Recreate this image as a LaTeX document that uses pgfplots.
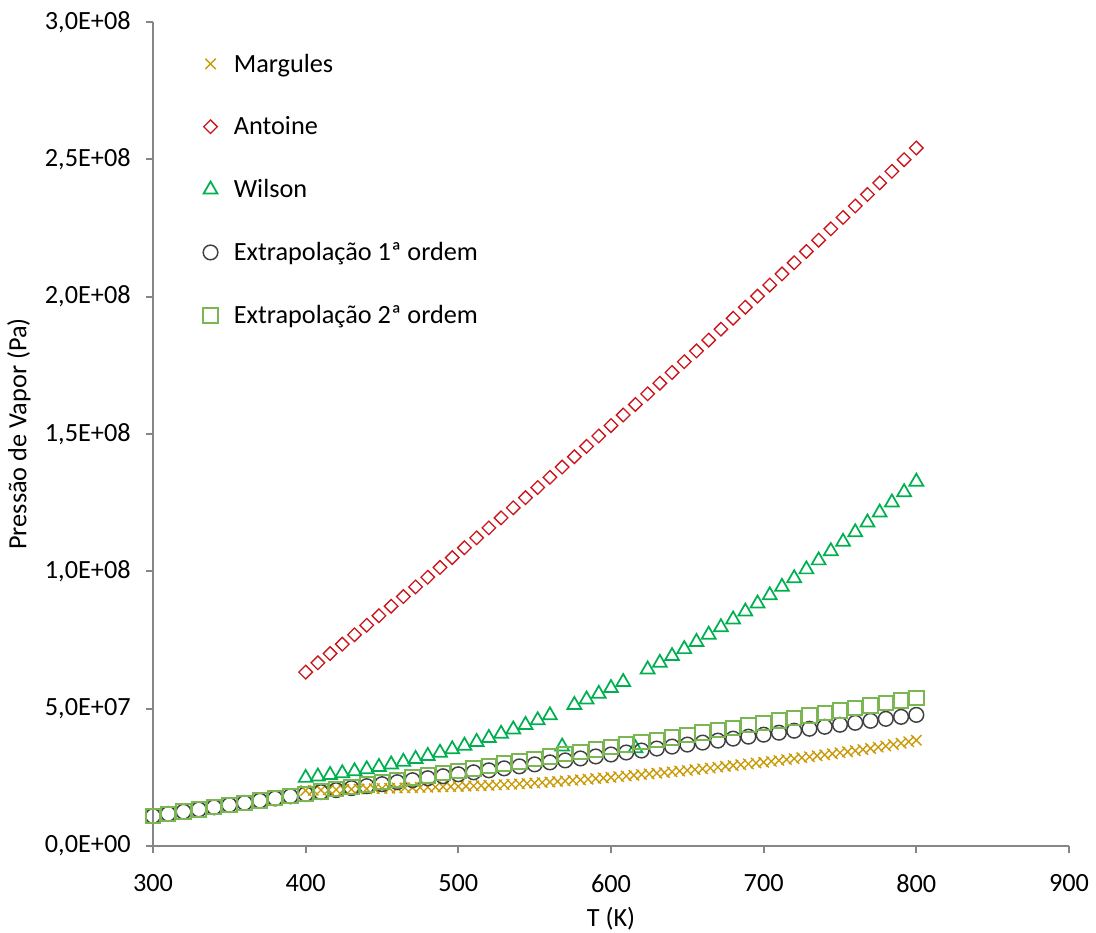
\documentclass[border=0pt]{standalone}
\usepackage{fontspec}
\setmainfont{Carlito}
\usepackage{pgfplots}
\pgfplotsset{compat=1.18}

\definecolor{cMarg}{RGB}{201,154,6}
\definecolor{cAnt}{RGB}{204,20,28}
\definecolor{cWil}{RGB}{0,176,80}
\definecolor{cExt1}{RGB}{64,64,64}
\definecolor{cExt2}{RGB}{122,182,82}
\definecolor{cAxis}{RGB}{134,134,134}

\newcommand{\lblfont}{\fontsize{19.7pt}{23.6pt}\selectfont}

\begin{document}
\begin{tikzpicture}
\path[use as bounding box] (-114.75pt,-64.5pt) rectangle (707.25pt,634.5pt);
\begin{axis}[
  at={(0,0)}, anchor=south west,
  scale only axis, width=687pt, height=618pt,
  xmin=300, xmax=900, ymin=0, ymax=3e8,
  clip=false,
  axis x line=bottom, axis y line=left,
  axis line style={-, draw=cAxis, line width=1.5pt},
  tick align=outside, major tick length=5.25pt,
  tick style={draw=cAxis, line width=1.5pt},
  xtick={300,400,500,600,700,800,900},
  xticklabels={300,400,500,600,700,800,900},
  ytick={0,5e7,1e8,1.5e8,2e8,2.5e8,3e8},
  yticklabels={{0,0E+00},{5,0E+07},{1,0E+08},{1,5E+08},{2,0E+08},{2,5E+08},{3,0E+08}},
  scaled y ticks=false,
  ticklabel style={font=\lblfont, text=black},
  yticklabel style={xshift=-8pt},
  xticklabel style={yshift=-12.5pt},
  xlabel={T (K)},
  ylabel={Pressão de Vapor (Pa)},
  label style={font=\lblfont},
  xlabel style={at={(axis description cs:0.5,-0.088)}, anchor=center},
  ylabel style={at={(axis description cs:-0.1463,0.5)}, anchor=center},
  legend style={at={(axis description cs:0.0545,0.965)}, anchor=north west,
    draw=none, fill=none, font=\lblfont, row sep=28pt,
    inner sep=0pt,
    /tikz/every odd column/.append style={column sep=10pt}},
  legend cell align=left,
]

% Margules
\addplot[only marks, mark=x, mark size=5.5pt, color=cMarg, line width=1pt]
coordinates {
(400,20.20e6)(405,20.27e6)(410,20.35e6)(415,20.42e6)(420,20.50e6)(425,20.57e6)
(430,20.65e6)(435,20.72e6)(440,20.80e6)(445,20.87e6)(450,20.95e6)(455,21.02e6)
(460,21.10e6)(465,21.17e6)(470,21.25e6)(475,21.32e6)(480,21.40e6)(485,21.47e6)
(490,21.55e6)(495,21.62e6)(500,21.70e6)(505,21.80e6)(510,21.90e6)(515,22.00e6)
(520,22.10e6)(525,22.22e6)(530,22.35e6)(535,22.47e6)(540,22.60e6)(545,22.77e6)
(550,22.95e6)(555,23.12e6)(560,23.30e6)(565,23.50e6)(570,23.70e6)(575,23.90e6)
(580,24.10e6)(585,24.32e6)(590,24.55e6)(595,24.77e6)(600,25.00e6)(605,25.25e6)
(610,25.50e6)(615,25.75e6)(620,26.00e6)(625,26.25e6)(630,26.50e6)(635,26.75e6)
(640,27.00e6)(645,27.27e6)(650,27.55e6)(655,27.82e6)(660,28.10e6)(665,28.40e6)
(670,28.70e6)(675,29.00e6)(680,29.30e6)(685,29.60e6)(690,29.90e6)(695,30.20e6)
(700,30.50e6)(705,30.82e6)(710,31.15e6)(715,31.47e6)(720,31.80e6)(725,32.15e6)
(730,32.50e6)(735,32.85e6)(740,33.20e6)(745,33.57e6)(750,33.95e6)(755,34.32e6)
(760,34.70e6)(765,35.12e6)(770,35.55e6)(775,35.97e6)(780,36.40e6)(785,36.92e6)
(790,37.45e6)(795,37.97e6)(800,38.50e6)
};
\addlegendentry{Margules}

% Antoine
\addplot[only marks, mark=square, mark size=3.6pt, mark options={rotate=45},
  color=cAnt, line width=1pt]
coordinates {
(400,63.30e6)(408,66.68e6)(416,70.07e6)(424,73.48e6)(432,76.91e6)(440,80.36e6)
(448,83.82e6)(456,87.31e6)(464,90.81e6)(472,94.33e6)(480,97.86e6)(488,101.42e6)
(496,104.99e6)(504,108.58e6)(512,112.19e6)(520,115.82e6)(528,119.47e6)(536,123.13e6)
(544,126.81e6)(552,130.51e6)(560,134.23e6)(568,137.96e6)(576,141.72e6)(584,145.49e6)
(592,149.28e6)(600,153.08e6)(608,156.91e6)(616,160.75e6)(624,164.61e6)(632,168.49e6)
(640,172.39e6)(648,176.31e6)(656,180.24e6)(664,184.19e6)(672,188.16e6)(680,192.15e6)
(688,196.15e6)(696,200.18e6)(704,204.22e6)(712,208.28e6)(720,212.35e6)(728,216.45e6)
(736,220.56e6)(744,224.69e6)(752,228.84e6)(760,233.01e6)(768,237.20e6)(776,241.40e6)
(784,245.62e6)(792,249.86e6)(800,254.12e6)
};
\addlegendentry{Antoine}

% Wilson
\addplot[only marks, mark=triangle, mark size=6pt, color=cWil, line width=1.3pt]
coordinates {
(400,24.80e6)(408,25.30e6)(416,25.86e6)(424,26.49e6)(432,27.19e6)(440,27.95e6)
(448,28.79e6)(456,29.69e6)(464,30.66e6)(472,31.70e6)(480,32.80e6)(488,33.97e6)
(496,35.21e6)(504,36.52e6)(512,37.90e6)(520,39.34e6)(528,40.86e6)(536,42.44e6)
(544,44.08e6)(552,45.80e6)(560,47.58e6)(568,36.20e6)(576,51.36e6)(584,53.34e6)
(592,55.40e6)(600,57.52e6)(608,59.71e6)(616,35.60e6)(624,64.30e6)(632,66.69e6)
(640,69.15e6)(648,71.68e6)(656,74.28e6)(664,76.95e6)(672,79.68e6)(680,82.48e6)
(688,85.35e6)(696,88.29e6)(704,91.29e6)(712,94.36e6)(720,97.50e6)(728,100.71e6)
(736,103.99e6)(744,107.33e6)(752,110.74e6)(760,114.22e6)(768,117.77e6)(776,121.39e6)
(784,125.07e6)(792,128.82e6)(800,132.64e6)
};
\addlegendentry{Wilson}

% Extrapolacao de 1a ordem
\addplot[only marks, mark=o, mark size=5.5pt, color=cExt1, line width=1.1pt]
coordinates {
(300,10.90e6)(310,11.70e6)(320,12.50e6)(330,13.30e6)(340,14.10e6)(350,14.90e6)
(360,15.70e6)(370,16.50e6)(380,17.30e6)(390,18.10e6)(400,18.90e6)(410,19.62e6)
(420,20.34e6)(430,21.06e6)(440,21.78e6)(450,22.51e6)(460,23.23e6)(470,23.95e6)
(480,24.67e6)(490,25.39e6)(500,26.11e6)(510,26.83e6)(520,27.55e6)(530,28.27e6)
(540,28.99e6)(550,29.72e6)(560,30.44e6)(570,31.16e6)(580,31.88e6)(590,32.60e6)
(600,33.32e6)(610,34.04e6)(620,34.76e6)(630,35.48e6)(640,36.20e6)(650,36.93e6)
(660,37.65e6)(670,38.37e6)(680,39.09e6)(690,39.81e6)(700,40.53e6)(710,41.25e6)
(720,41.97e6)(730,42.69e6)(740,43.41e6)(750,44.14e6)(760,44.86e6)(770,45.58e6)
(780,46.30e6)(790,47.02e6)(800,47.74e6)
};
\addlegendentry{Extrapolação 1ª ordem}

% Extrapolacao de 2a ordem
\addplot[only marks, mark=square, mark size=5.4pt, color=cExt2, line width=1.5pt]
coordinates {
(300,10.90e6)(310,11.70e6)(320,12.51e6)(330,13.32e6)(340,14.13e6)(350,14.94e6)
(360,15.76e6)(370,16.58e6)(380,17.39e6)(390,18.22e6)(400,19.04e6)(410,19.87e6)
(420,20.70e6)(430,21.53e6)(440,22.36e6)(450,23.20e6)(460,24.04e6)(470,24.88e6)
(480,25.72e6)(490,26.57e6)(500,27.41e6)(510,28.26e6)(520,29.11e6)(530,29.97e6)
(540,30.83e6)(550,31.68e6)(560,32.55e6)(570,33.41e6)(580,34.27e6)(590,35.14e6)
(600,36.01e6)(610,36.89e6)(620,37.76e6)(630,38.64e6)(640,39.52e6)(650,40.40e6)
(660,41.28e6)(670,42.17e6)(680,43.06e6)(690,43.95e6)(700,44.84e6)(710,45.74e6)
(720,46.64e6)(730,47.54e6)(740,48.44e6)(750,49.35e6)(760,50.25e6)(770,51.16e6)
(780,52.07e6)(790,52.99e6)(800,53.90e6)
};
\addlegendentry{Extrapolação 2ª ordem}

\end{axis}
\end{tikzpicture}
\end{document}
